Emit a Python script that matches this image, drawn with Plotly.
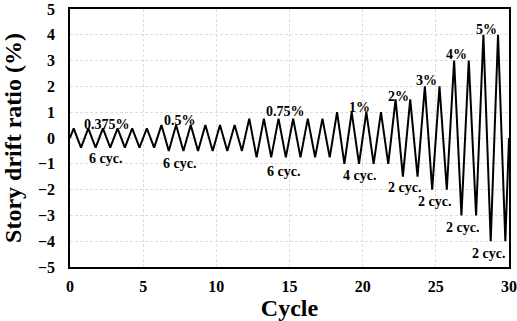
import plotly.graph_objects as go

# Data: amplitude of each cycle (% drift) as plotted
amplitudes = [0.375] * 6 + [0.5] * 6 + [0.75] * 6 + [1.0] * 4 + [1.5] * 2 + [2.0] * 2 + [3.0] * 2 + [4.0] * 2

level_labels = ["0.375%", "0.5%", "0.75%", "1%", "2%", "3%", "4%", "5%"]
level_x = [2.52, 7.5, 14.7, 19.77, 22.45, 24.38, 26.43, 28.47]
level_y = [0.54, 0.69, 1.01, 1.2, 1.62, 2.22, 3.22, 4.22]

cyc_labels = ["6 cyc.", "6 cyc.", "6 cyc.", "4 cyc.", "2 cyc.", "2 cyc.", "2 cyc.", "2 cyc."]
cyc_x = [2.45, 7.5, 14.59, 19.8, 22.86, 24.88, 26.81, 28.63]
cyc_y = [-0.81, -0.97, -1.3, -1.45, -1.91, -2.47, -3.47, -4.46]

# Build triangular waveform: 0 -> +a -> -a ... -> 0
xs = [0.0]
ys = [0.0]
for i, a in enumerate(amplitudes):
    xs += [i + 0.25, i + 0.75]
    ys += [a, -a]
xs.append(len(amplitudes))
ys.append(0.0)

fig = go.Figure()
fig.add_trace(go.Scatter(x=xs, y=ys, mode="lines",
                         line=dict(color="black", width=2), showlegend=False))

font_family = "Liberation Serif"
lab_font = dict(family=font_family, size=14, color="black", weight="bold")
for t, x, y in zip(level_labels, level_x, level_y):
    fig.add_annotation(x=x, y=y, text=t, showarrow=False, font=lab_font)
for t, x, y in zip(cyc_labels, cyc_x, cyc_y):
    fig.add_annotation(x=x, y=y, text=t, showarrow=False, font=lab_font)

axis_common = dict(
    showgrid=True, gridcolor="#dedede", griddash="3px,2px", gridwidth=1,
    showline=True, linecolor="black", linewidth=1.5, mirror=True,
    zeroline=False, ticks="", automargin=False,
    tickfont=dict(family=font_family, size=16, color="black", weight="bold"),
)

fig.update_xaxes(range=[0, 30], dtick=5, tick0=0,
                 title=dict(text="Cycle", font=dict(family=font_family, size=24, color="black", weight="bold"), standoff=2),
                 ticklabelstandoff=4, **axis_common)
fig.update_yaxes(range=[-5, 5], dtick=1, tick0=0,
                 title=dict(text="Story drift ratio (%)", font=dict(family=font_family, size=24, color="black", weight="bold"), standoff=12),
                 ticklabelstandoff=10, **axis_common)

fig.update_layout(
    width=517, height=321,
    margin=dict(l=70, r=8, t=9, b=54),
    plot_bgcolor="white", paper_bgcolor="white",
)

fig.write_html("out.html")
